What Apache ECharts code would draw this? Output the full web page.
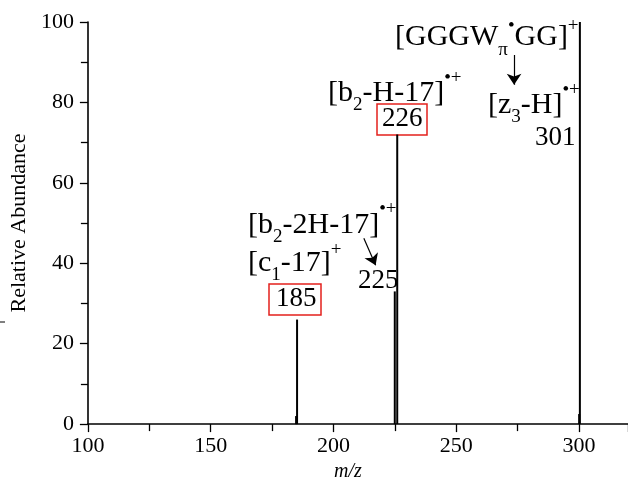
<!DOCTYPE html>
<html><head><meta charset="utf-8">
<script src="https://cdn.jsdelivr.net/npm/echarts@6/dist/echarts.min.js"></script>
<style>html,body{margin:0;padding:0;background:#fff}#c{width:628px;height:487px}</style>
</head><body><div id="c"></div>
<script>
// ---- data ----
const mz = [184.8, 185.2, 225.0, 226.0, 300.1, 300.4];
const abundance = [2, 26, 33, 72, 2.5, 100];
const xTicks = [100, 150, 200, 250, 300];
const yTicks = [0, 20, 40, 60, 80, 100];
const arrowFrom = [[273.6, 91.8], [212.4, 46.2]];
const arrowTo = [[273.6, 84.4], [217.2, 39.5]];

const FF = '"Liberation Serif", "Times New Roman", serif';
const cv = document.createElement('canvas').getContext('2d');
function tw(t, size) { cv.font = size + 'px ' + FF; return cv.measureText(t).width; }

function build(pieces, x0, base, F, S, subDy, supDy) {
  let x = x0; const out = [];
  pieces.forEach(([t, k]) => {
    const size = k === 'n' ? F : S;
    const by = base + (k === 'b' ? subDy : k === 'p' ? supDy : 0);
    out.push({ type: 'text', x: x, y: by - 0.34 * size, silent: true,
      style: { text: t, fontSize: size, fontFamily: FF, fill: '#000', align: 'left', verticalAlign: 'middle' } });
    x += tw(t, size);
  });
  return out;
}
const F = 30, S = 19, D = 27;
let g = [];
g = g.concat(build([['[GGGW','n'],['\u03c0','b'],['\u2022','p'],['GG]','n'],['+','p']], 395, 47, F, S, 9, -15));
g = g.concat(build([['[z','n'],['3','b'],['-H]','n'],['\u2022+','p']], 488, 115, F, S, 8, -19));
g = g.concat(build([['301','n']], 535, 147, D, S, 0, 0));
g = g.concat(build([['[b','n'],['2','b'],['-H-17]','n'],['\u2022+','p']], 328, 103, F, S, 8, -19));
g = g.concat(build([['226','n']], 382, 128, D, S, 0, 0));
g = g.concat(build([['[b','n'],['2','b'],['-2H-17]','n'],['\u2022+','p']], 248, 235, F, S, 8, -20));
g = g.concat(build([['[c','n'],['1','b'],['-17]','n'],['+','p']], 248, 273, F, S, 8, -17));
g = g.concat(build([['225','n']], 358, 290, D, S, 0, 0));
g = g.concat(build([['185','n']], 276, 308, D, S, 0, 0));
g.push({ type: 'rect', shape: { x: 377, y: 104, width: 50, height: 31 }, style: { fill: 'none', stroke: '#e3201c', lineWidth: 1.5 } });
g.push({ type: 'rect', shape: { x: 269, y: 284, width: 52, height: 31 }, style: { fill: 'none', stroke: '#e3201c', lineWidth: 1.5 } });
g.push({ type: 'line', shape: { x1: 0, y1: 322, x2: 5, y2: 322 }, style: { stroke: '#000', lineWidth: 1 } });

const chart = echarts.init(document.getElementById('c'), null, { renderer: 'canvas' });
const axisText = { color: '#000', fontFamily: FF, fontSize: 22 };
chart.setOption({
  animation: false,
  backgroundColor: '#fff',
  grid: { left: 82.3, top: 22, right: -7.6, bottom: 59.7, containLabel: false },
  xAxis: {
    type: 'value', min: 100, max: 320, interval: 50,
    axisLine: { lineStyle: { color: '#000', width: 1.6 } },
    axisTick: { show: true, inside: false, length: 8, lineStyle: { color: '#000', width: 1.3 } },
    minorTick: { show: true, splitNumber: 2, length: 7, lineStyle: { color: '#000', width: 1.3 } },
    splitLine: { show: false },
    axisLabel: Object.assign({ margin: 11, customValues: xTicks, formatter: v => xTicks.includes(v) ? String(v) : '' }, axisText),
    name: 'm/z', nameLocation: 'middle', nameGap: 36,
    nameTextStyle: { color: '#000', fontFamily: FF, fontSize: 20, fontStyle: 'italic', padding: [0, 20, 0, 0] }
  },
  yAxis: {
    type: 'value', min: 0, max: 100, interval: 20,
    axisLine: { show: true, lineStyle: { color: '#000', width: 1.6 } },
    axisTick: { show: true, inside: false, length: 8, lineStyle: { color: '#000', width: 1.3 } },
    minorTick: { show: true, splitNumber: 2, length: 7, lineStyle: { color: '#000', width: 1.3 } },
    splitLine: { show: false },
    axisLabel: Object.assign({ margin: 14 }, axisText),
    name: 'Relative Abundance', nameLocation: 'middle', nameGap: 46,
    nameTextStyle: { color: '#000', fontFamily: FF, fontSize: 22 }
  },
  series: [
    {
      type: 'custom',
      data: mz.map((m, i) => [m, abundance[i]]),
      renderItem: function (params, api) {
        const p0 = api.coord([api.value(0), 0]);
        const p1 = api.coord([api.value(0), api.value(1)]);
        return { type: 'line', shape: { x1: p0[0], y1: p0[1], x2: p1[0], y2: p1[1] }, style: { stroke: '#000', lineWidth: 2 } };
      },
      silent: true
    },
    {
      type: 'lines', coordinateSystem: 'cartesian2d', polyline: false,
      symbol: ['none', 'arrow'], symbolSize: [6, 11],
      lineStyle: { color: '#000', width: 1.2, opacity: 1 },
      data: arrowFrom.map((a, i) => ({ coords: [a, arrowTo[i]] })),
      silent: true
    }
  ],
  graphic: g
});
</script></body></html>
